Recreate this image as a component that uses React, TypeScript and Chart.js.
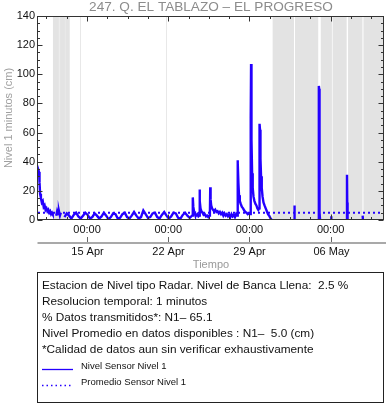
import React, { useEffect, useRef } from 'react';
import { Chart, registerables } from 'chart.js';

Chart.register(...registerables);

const FONT = '"Liberation Sans", Arial, Helvetica, sans-serif';

const TITLE = '247. Q. EL TABLAZO – EL PROGRESO';
const Y_TITLE = 'Nivel 1 minutos (cm)';
const X_TITLE = 'Tiempo';

// x values: days relative to 15 Apr 00:00
const X_MIN = -4.23;
const X_MAX = 25.6;
const MAJOR_DAYS = [0, 7, 14, 21];
const HOUR_LABELS = ['00:00', '00:00', '00:00', '00:00'];
const DATE_LABELS = ['15 Apr', '22 Apr', '29 Apr', '06 May'];
const MINOR_DAY_STEP = 1.75;
const Y_MIN = 0;
const Y_MAX = 140;
const Y_STEP = 20;
const Y_MINOR_STEP = 5;

const AVG_CM = 5.0;

// level series segments: [day, cm]
const RECESSION_APR_11: number[][] = [
  [-4.21, 31], [-4.18, 34], [-4.14, 33], [-4.1, 26], [-4.05, 18], [-3.98, 15], [-3.9, 12],
  [-3.82, 13], [-3.74, 9], [-3.66, 10], [-3.58, 7], [-3.5, 8], [-3.42, 6], [-3.34, 7],
  [-3.26, 5], [-3.18, 6], [-3.1, 4], [-3.02, 5], [-2.96, 4],
];
const BLIP_APR_12: number[][] = [
  [-2.66, 3], [-2.58, 6], [-2.5, 4], [-2.42, 6], [-2.34, 3], [-2.26, 5],
];
const BASELINE_APR: number[][] = [
  [-1.95, 2], [-1.75, 4.5], [-1.55, 3], [-1.35, 1], [-1.15, 3.5], [-0.95, 5], [-0.75, 2.5],
  [-0.55, 1], [-0.35, 3], [-0.15, 5], [0.05, 3.5], [0.25, 1], [0.45, 2], [0.65, 4.5],
  [0.85, 3], [1.05, 1], [1.25, 2.5], [1.45, 5], [1.65, 3], [1.85, 0.5], [2.05, 2],
  [2.25, 4.5], [2.45, 4], [2.65, 1], [2.85, 1.5], [3.05, 4], [3.25, 5], [3.45, 2],
  [3.65, 1], [3.85, 3], [4.05, 5.5], [4.25, 3], [4.45, 1], [4.65, 2], [4.85, 6.5],
  [5.05, 4], [5.25, 1.5], [5.45, 2], [5.65, 4.5], [5.85, 5], [6.05, 2], [6.25, 1],
  [6.45, 3.5], [6.65, 5.5], [6.85, 3], [7.05, 1], [7.25, 2.5], [7.45, 5], [7.65, 4.5],
  [7.85, 1.5], [8.05, 1], [8.25, 3.5], [8.45, 5], [8.65, 3], [8.85, 1.5], [9.05, 3],
];
const STORMS_APR_24_30: number[][] = [
  [9.1, 4], [9.13, 15.5], [9.16, 9], [9.22, 6], [9.3, 4], [9.4, 3], [9.5, 4], [9.6, 2.5],
  [9.67, 3], [9.7, 21], [9.73, 13], [9.78, 8], [9.86, 6], [9.95, 5], [10.05, 3.5],
  [10.15, 4], [10.25, 2.5], [10.35, 3], [10.45, 2], [10.55, 3], [10.59, 4], [10.62, 22.5],
  [10.65, 14], [10.7, 10], [10.78, 8], [10.86, 7], [10.95, 6], [11.05, 7], [11.15, 5.5],
  [11.25, 6], [11.35, 4.5], [11.45, 5.5], [11.55, 4], [11.65, 5], [11.75, 3], [11.85, 4.5],
  [11.95, 3], [12.05, 4], [12.15, 2.5], [12.25, 3.5], [12.35, 2], [12.45, 4], [12.55, 2.5],
  [12.65, 3.5], [12.75, 2], [12.85, 4], [12.93, 3], [12.97, 41], [13.01, 39], [13.05, 25],
  [13.1, 17], [13.17, 13], [13.25, 11], [13.35, 9], [13.45, 8], [13.55, 6.5], [13.65, 5.5],
  [13.75, 5], [13.85, 4], [13.95, 4.5], [14.05, 4], [14.1, 8], [14.12, 70], [14.14, 107],
  [14.16, 100], [14.19, 55], [14.23, 32], [14.28, 22], [14.35, 16], [14.43, 13], [14.52, 11],
  [14.6, 10], [14.68, 8], [14.76, 7], [14.83, 8], [14.86, 30], [14.88, 66], [14.91, 62],
  [14.95, 42], [15.0, 30], [15.06, 22], [15.13, 16], [15.21, 12], [15.3, 10], [15.4, 8],
  [15.5, 6], [15.6, 4], [15.7, 3], [15.8, 1.5], [15.88, 0.5], [15.95, 0],
];
const BLIP_MAY_02: number[][] = [[17.86, 0], [17.88, 10], [17.9, 1]];
const PEAK_MAY_05: number[][] = [
  [19.95, 0], [19.975, 60], [19.99, 92], [20.01, 90], [20.03, 40], [20.06, 5], [20.09, 0],
];
const BLIP_MAY_06: number[][] = [[21.04, -2], [21.06, 2.5]];
const PEAK_MAY_07: number[][] = [[22.39, 0], [22.41, 31], [22.43, 12], [22.46, 0]];
const BLIP_MAY_08: number[][] = [[23.76, 3], [23.79, -1]];

// periods without data (grey shading), days
const GAP_START = [-2.94, -2.32, -1.86, 16.0, 17.93, 20.15, 21.17, 22.5, 23.83];
const GAP_END = [-2.44, -1.92, -1.51, 17.84, 19.93, 21.11, 22.38, 23.74, 25.6];
const GAP_LIGHT_START = [-2.94];
const GAP_LIGHT_END = [-1.51];
const GRID_DAYS = [-0.59, 6.83];

const INFO_LINES = [
  'Estacion de Nivel tipo Radar. Nivel de Banca Llena:  2.5 %',
  'Resolucion temporal: 1 minutos',
  '% Datos transmitidos*: N1– 65.1',
  'Nivel Promedio en datos disponibles : N1–  5.0 (cm)',
  '*Calidad de datos aun sin verificar exhaustivamente',
];
const LEGEND_LABELS = ['Nivel Sensor Nivel 1', 'Promedio Sensor Nivel 1'];

const BLUE = 'rgb(36,0,255)';

const SEGMENTS = [
  RECESSION_APR_11,
  BLIP_APR_12,
  [...BASELINE_APR, ...STORMS_APR_24_30],
  BLIP_MAY_02,
  PEAK_MAY_05,
  BLIP_MAY_06,
  PEAK_MAY_07,
  BLIP_MAY_08,
];

function buildLevel() {
  const out: { x: number; y: number | null }[] = [];
  SEGMENTS.forEach((seg, i) => {
    if (i > 0) {
      const prev = SEGMENTS[i - 1];
      out.push({ x: (prev[prev.length - 1][0] + seg[0][0]) / 2, y: null });
    }
    seg.forEach(([x, y]) => out.push({ x, y }));
  });
  return out;
}

const decor = {
  id: 'decor',
  beforeDatasetsDraw(chart: any) {
    const { ctx, chartArea: a, scales } = chart;
    const x = scales.x;
    ctx.save();
    ctx.fillStyle = '#ececec';
    GAP_LIGHT_START.forEach((s, i) => {
      const x0 = x.getPixelForValue(s);
      const x1 = x.getPixelForValue(GAP_LIGHT_END[i]);
      ctx.fillRect(x0, a.top, x1 - x0, a.bottom - a.top);
    });
    ctx.fillStyle = '#e3e3e3';
    GAP_START.forEach((s, i) => {
      const x0 = x.getPixelForValue(s);
      const x1 = Math.min(x.getPixelForValue(GAP_END[i]), a.right);
      ctx.fillRect(x0, a.top, x1 - x0, a.bottom - a.top);
    });
    ctx.strokeStyle = '#e8e8e8';
    ctx.lineWidth = 1;
    GRID_DAYS.forEach((d) => {
      const px = Math.round(x.getPixelForValue(d)) + 0.5;
      ctx.beginPath();
      ctx.moveTo(px, a.top);
      ctx.lineTo(px, a.bottom);
      ctx.stroke();
    });
    ctx.restore();
  },
  afterDraw(chart: any) {
    const { ctx, chartArea: a, scales } = chart;
    const x = scales.x;
    const y = scales.y;
    ctx.save();
    // frame
    ctx.strokeStyle = '#333';
    ctx.lineWidth = 1;
    const L = Math.round(a.left) - 0.5;
    const R = Math.round(a.right) - 0.5;
    const T = Math.round(a.top) + 0.5;
    const B = Math.round(a.bottom) - 0.5;
    ctx.strokeRect(L, T, R - L, B - T);
    const seg = (x0: number, y0: number, x1: number, y1: number) => {
      ctx.beginPath();
      ctx.moveTo(x0, y0);
      ctx.lineTo(x1, y1);
      ctx.stroke();
    };
    // y ticks both sides
    for (let v = Y_MIN; v <= Y_MAX; v += Y_MINOR_STEP) {
      const py = Math.round(y.getPixelForValue(v)) + 0.5;
      const len = v % Y_STEP === 0 ? 5 : 2.5;
      seg(L, py, L + len, py);
      seg(R, py, R - len, py);
    }
    // x ticks top & bottom
    const xt: number[] = [];
    for (let d = MAJOR_DAYS[0]; d >= X_MIN; d -= MINOR_DAY_STEP) xt.push(d);
    for (let d = MAJOR_DAYS[0] + MINOR_DAY_STEP; d <= X_MAX; d += MINOR_DAY_STEP) xt.push(d);
    xt.forEach((d) => {
      const px = Math.round(x.getPixelForValue(d)) + 0.5;
      const major = Math.abs(d / 7 - Math.round(d / 7)) < 1e-6;
      const len = major ? 5 : 2.5;
      seg(px, T, px, T + len);
      seg(px, B, px, B - len);
    });
    // second date row
    ctx.strokeStyle = '#a9a9a9';
    ctx.lineWidth = 2;
    seg(L, 243, 386, 243);
    ctx.strokeStyle = '#666';
    ctx.lineWidth = 1;
    ctx.fillStyle = '#111';
    ctx.font = `11px ${FONT}`;
    ctx.textAlign = 'center';
    ctx.textBaseline = 'middle';
    MAJOR_DAYS.forEach((d, i) => {
      const px = Math.round(x.getPixelForValue(d)) + 0.5;
      seg(px, 237, px, 242);
      ctx.fillText(DATE_LABELS[i], px, 252);
    });
    const cx = (a.left + a.right) / 2;
    ctx.fillStyle = '#9a9a9a';
    ctx.font = `11px ${FONT}`;
    ctx.fillText(X_TITLE, cx, 265);
    ctx.fillStyle = '#8c8c8c';
    ctx.font = `13.6px ${FONT}`;
    ctx.fillText(TITLE, cx, 7.5);
    ctx.fillStyle = '#a0a0a0';
    ctx.font = `11px ${FONT}`;
    ctx.translate(8.5, (a.top + a.bottom) / 2);
    ctx.rotate(-Math.PI / 2);
    ctx.fillText(Y_TITLE, 0, 0);
    ctx.restore();
  },
};

export default function App() {
  const ref = useRef<HTMLCanvasElement>(null);
  useEffect(() => {
    const chart = new Chart(ref.current as HTMLCanvasElement, {
      type: 'line',
      data: {
        datasets: [
          {
            data: [
              { x: X_MIN, y: AVG_CM },
              { x: X_MAX, y: AVG_CM },
            ],
            borderColor: BLUE,
            borderWidth: 2,
            borderDash: [2, 3],
            pointRadius: 0,
            clip: 0,
          } as any,
          {
            data: buildLevel(),
            borderColor: BLUE,
            borderWidth: 2.4,
            pointRadius: 0,
            spanGaps: false,
            tension: 0,
            clip: 0,
          } as any,
        ],
      },
      options: {
        animation: false,
        responsive: false,
        devicePixelRatio: 1,
        parsing: false as any,
        normalized: true,
        layout: { padding: { top: 16, right: 4, bottom: 164, left: 0 } },
        plugins: { legend: { display: false }, tooltip: { enabled: false }, title: { display: false } },
        scales: {
          x: {
            type: 'linear',
            min: X_MIN,
            max: X_MAX,
            grid: { display: false, drawTicks: false },
            border: { display: false },
            afterBuildTicks: (s: any) => {
              s.ticks = MAJOR_DAYS.map((v) => ({ value: v }));
            },
            afterFit: (s: any) => {
              s.height = 20;
            },
            ticks: {
              padding: 3,
              maxRotation: 0,
              autoSkip: false,
              color: '#111',
              font: { family: FONT, size: 11 },
              callback: (_v: any, i: number) => HOUR_LABELS[i],
            },
          },
          y: {
            type: 'linear',
            min: Y_MIN,
            max: Y_MAX,
            grid: { display: false, drawTicks: false },
            border: { display: false },
            afterFit: (s: any) => {
              s.width = 38;
            },
            ticks: {
              stepSize: Y_STEP,
              padding: 3,
              color: '#111',
              font: { family: FONT, size: 11 },
            },
          },
        },
      } as any,
      plugins: [decor],
    });
    return () => chart.destroy();
  }, []);

  return (
    <div style={{ position: 'absolute', left: 0, top: 0, width: 388, height: 404, background: '#fff' }}>
      <canvas ref={ref} width={388} height={404} style={{ display: 'block', width: 388, height: 404 }} />
      <div
        style={{
          position: 'absolute',
          left: 37,
          top: 272,
          width: 347,
          height: 131,
          border: '1px solid #222',
          boxSizing: 'border-box',
          fontFamily: FONT,
          color: '#111',
        }}
      >
        {INFO_LINES.map((t, i) => (
          <div
            key={i}
            style={{
              position: 'absolute',
              left: 4,
              top: 4 + i * 16,
              fontSize: 11.8,
              lineHeight: '16px',
              whiteSpace: 'pre',
            }}
          >
            {t}
          </div>
        ))}
        {LEGEND_LABELS.map((t, i) => (
          <div key={'l' + i} style={{ position: 'absolute', left: 4, top: 87 + i * 16, height: 12, width: 200 }}>
            <svg width={32} height={12} style={{ position: 'absolute', left: 0, top: 0 }}>
              <line
                x1={0}
                y1={9.5}
                x2={31}
                y2={9.5}
                stroke={BLUE}
                strokeWidth={1.3}
                strokeDasharray={i === 1 ? '1.5 3' : undefined}
              />
            </svg>
            <span
              style={{
                position: 'absolute',
                left: 39,
                top: 0,
                fontSize: 9.5,
                lineHeight: '12px',
                whiteSpace: 'pre',
              }}
            >
              {t}
            </span>
          </div>
        ))}
      </div>
    </div>
  );
}
